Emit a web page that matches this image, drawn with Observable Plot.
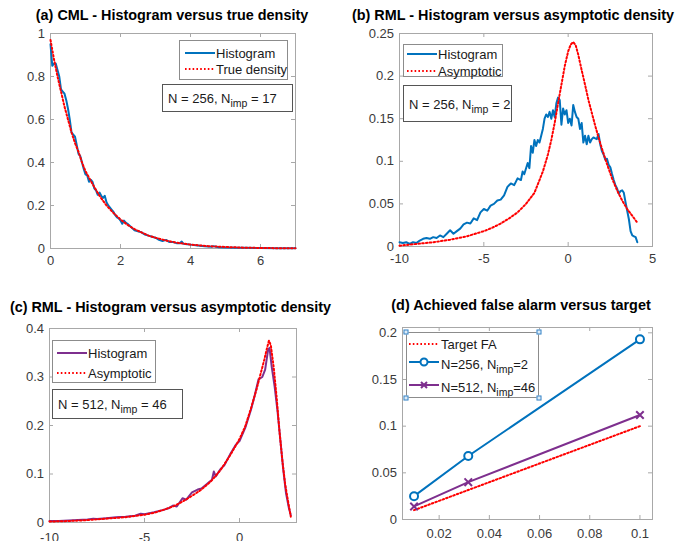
<!DOCTYPE html>
<html><head><meta charset="utf-8">
<script src="https://cdn.jsdelivr.net/npm/d3@7"></script>
<script src="https://cdn.jsdelivr.net/npm/@observablehq/plot@0.6"></script>
<style>
body{margin:0;background:#fff;font-family:"Liberation Sans",Arial,Helvetica,sans-serif;}
#root{position:relative;width:678px;height:541px;overflow:hidden;background:#fff}
#root svg.pl{position:absolute;left:0;top:0;overflow:visible}
.title{position:absolute;font-weight:bold;font-size:14.4px;line-height:1;white-space:nowrap;transform:translate(-50%,-50%);color:#000}
.leg{position:absolute;border:1px solid #8c8c8c;background:#fff;box-sizing:border-box}
.row{position:absolute;font-size:13px;line-height:1;white-space:nowrap;color:#1a1a1a;transform:translateY(-50%)}
.samp{position:absolute;overflow:visible}
.tbox{position:absolute;border:1px solid #555;background:#fff;box-sizing:border-box;font-size:13px;color:#1a1a1a;white-space:nowrap;padding-left:5px}
.tbox span{position:absolute;left:5px;top:50%;transform:translateY(-50%);line-height:1}
sub{font-size:10.5px;vertical-align:-4px;line-height:0}
.handle{position:absolute;width:5px;height:5px;border:1px solid #3b86c8;background:#dcebf7;box-sizing:border-box;transform:translate(-50%,-50%)}
</style></head>
<body><div id="root"></div>
<script>
// ---------- data ----------
// (a) CML: histogram and true density
const aHist = [[0,0.95],[0.05,0.85],[0.1,0.86],[0.15,0.86],[0.2,0.83],[0.25,0.80],[0.3,0.74],[0.35,0.73],[0.4,0.72],[0.45,0.69],[0.5,0.65],[0.55,0.60],[0.6,0.54],[0.65,0.53],[0.7,0.52],[0.75,0.48],[0.8,0.44],[0.85,0.43],[0.9,0.40],[0.95,0.37],[1.0,0.345],[1.05,0.34],[1.1,0.31],[1.15,0.32],[1.2,0.31],[1.25,0.28],[1.3,0.27],[1.35,0.25],[1.4,0.26],[1.45,0.245],[1.5,0.235],[1.55,0.245],[1.6,0.215],[1.65,0.20],[1.7,0.19],[1.75,0.18],[1.8,0.17],[1.85,0.155],[1.9,0.145],[1.95,0.14],[2.0,0.13],[2.05,0.115],[2.1,0.13],[2.15,0.12],[2.2,0.115],[2.3,0.10],[2.4,0.085],[2.5,0.08],[2.6,0.075],[2.7,0.065],[2.8,0.06],[2.9,0.055],[3.0,0.05],[3.1,0.04],[3.2,0.035],[3.3,0.04],[3.4,0.03],[3.5,0.03],[3.6,0.025],[3.7,0.025],[3.75,0.032],[3.8,0.022],[3.9,0.02],[4.0,0.018],[4.2,0.014],[4.4,0.01],[4.6,0.008],[4.65,0.011],[4.8,0.006],[5.0,0.005],[5.3,0.004],[5.6,0.003],[6.0,0.002],[6.5,0.001],[7.0,0.001]];
const aTrue = [[0,0.97],[0.1,0.88],[0.2,0.80],[0.3,0.73],[0.4,0.66],[0.5,0.60],[0.6,0.54],[0.7,0.49],[0.8,0.45],[0.9,0.40],[1.0,0.36],[1.2,0.30],[1.4,0.245],[1.6,0.20],[1.8,0.165],[2.0,0.135],[2.2,0.11],[2.4,0.09],[2.6,0.075],[2.8,0.06],[3.0,0.05],[3.3,0.037],[3.6,0.027],[4.0,0.018],[4.5,0.011],[5.0,0.007],[5.5,0.004],[6.0,0.0025],[6.5,0.0015],[7.0,0.001]];
// (b) RML N=256: histogram and asymptotic density
const bHist = [[-10,0.005],[-9.8,0.004],[-9.6,0.005],[-9.4,0.003],[-9.2,0.005],[-9.0,0.004],[-8.8,0.007],[-8.6,0.009],[-8.4,0.010],[-8.2,0.009],[-8.0,0.011],[-7.8,0.010],[-7.6,0.013],[-7.4,0.011],[-7.2,0.015],[-7.0,0.019],[-6.8,0.015],[-6.6,0.018],[-6.4,0.021],[-6.2,0.026],[-6.0,0.028],[-5.8,0.027],[-5.6,0.033],[-5.4,0.031],[-5.2,0.040],[-5.0,0.044],[-4.8,0.042],[-4.6,0.048],[-4.4,0.050],[-4.2,0.054],[-4.0,0.055],[-3.8,0.060],[-3.6,0.070],[-3.4,0.074],[-3.2,0.072],[-3.0,0.080],[-2.8,0.078],[-2.7,0.088],[-2.6,0.085],[-2.4,0.098],[-2.3,0.092],[-2.2,0.118],[-2.1,0.110],[-2.0,0.125],[-1.9,0.118],[-1.8,0.125],[-1.7,0.122],[-1.6,0.130],[-1.5,0.138],[-1.4,0.150],[-1.3,0.155],[-1.2,0.152],[-1.1,0.158],[-1.0,0.150],[-0.9,0.160],[-0.8,0.152],[-0.7,0.168],[-0.6,0.175],[-0.5,0.172],[-0.4,0.143],[-0.3,0.162],[-0.2,0.155],[-0.1,0.160],[0.0,0.145],[0.1,0.150],[0.2,0.142],[0.3,0.166],[0.4,0.158],[0.5,0.152],[0.6,0.150],[0.7,0.138],[0.8,0.145],[0.9,0.122],[1.0,0.130],[1.1,0.120],[1.2,0.130],[1.3,0.122],[1.4,0.126],[1.5,0.128],[1.6,0.127],[1.7,0.126],[1.8,0.132],[1.9,0.120],[2.0,0.112],[2.1,0.108],[2.2,0.102],[2.3,0.103],[2.4,0.096],[2.5,0.093],[2.6,0.085],[2.7,0.078],[2.8,0.072],[2.9,0.068],[3.0,0.062],[3.1,0.065],[3.2,0.066],[3.3,0.063],[3.4,0.052],[3.5,0.042],[3.6,0.032],[3.7,0.018],[3.8,0.013],[3.9,0.012],[4.0,0.011],[4.1,0.005]];
const bAsym = [[-10,0.001],[-9,0.003],[-8,0.005],[-7,0.008],[-6,0.012],[-5,0.018],[-4.5,0.022],[-4,0.027],[-3.5,0.033],[-3,0.040],[-2.5,0.050],[-2,0.063],[-1.5,0.088],[-1.2,0.108],[-1,0.125],[-0.8,0.145],[-0.6,0.168],[-0.4,0.19],[-0.2,0.212],[0,0.229],[0.15,0.237],[0.3,0.24],[0.45,0.236],[0.6,0.225],[0.8,0.207],[1.0,0.19],[1.2,0.172],[1.4,0.157],[1.6,0.142],[1.8,0.128],[2.0,0.115],[2.3,0.097],[2.6,0.08],[2.9,0.066],[3.2,0.054],[3.5,0.044],[3.8,0.036],[4.1,0.028]];
// (c) RML N=512: histogram and asymptotic density
const cHist = [[-10,0.003],[-9.5,0.003],[-9,0.004],[-8.5,0.005],[-8,0.006],[-7.7,0.008],[-7.5,0.007],[-7,0.009],[-6.5,0.011],[-6,0.012],[-5.5,0.014],[-5.2,0.018],[-5,0.017],[-4.5,0.021],[-4,0.026],[-3.7,0.03],[-3.5,0.035],[-3.3,0.033],[-3.0,0.05],[-2.8,0.047],[-2.5,0.062],[-2.2,0.068],[-2.0,0.070],[-1.7,0.08],[-1.45,0.088],[-1.35,0.105],[-1.25,0.095],[-1.0,0.11],[-0.8,0.118],[-0.5,0.14],[-0.2,0.16],[0,0.168],[0.3,0.195],[0.6,0.232],[0.8,0.262],[1.0,0.295],[1.2,0.30],[1.35,0.315],[1.5,0.355],[1.58,0.36],[1.7,0.32],[1.85,0.28],[2.0,0.23],[2.15,0.17],[2.3,0.11],[2.45,0.06],[2.6,0.03],[2.7,0.015]];
const cAsym = [[-10,0.002],[-9,0.003],[-8,0.005],[-7,0.008],[-6,0.011],[-5,0.016],[-4.5,0.020],[-4,0.026],[-3.5,0.033],[-3,0.043],[-2.5,0.055],[-2,0.068],[-1.5,0.085],[-1,0.108],[-0.5,0.138],[0,0.172],[0.3,0.198],[0.6,0.235],[0.9,0.275],[1.1,0.305],[1.3,0.335],[1.45,0.36],[1.55,0.375],[1.65,0.365],[1.8,0.32],[1.95,0.26],[2.1,0.19],[2.25,0.13],[2.4,0.08],[2.55,0.045],[2.7,0.012]];
// (d) achieved false alarm versus target
const dTarget = [0.01, 0.0316, 0.1];
const dTargetFA = [0.01, 0.0316, 0.1];
const dN256 = [0.025, 0.068, 0.193];
const dN512 = [0.014, 0.040, 0.112];
// tick labels
const aXTicks = [0,2,4,6], aYTicks = [0,0.2,0.4,0.6,0.8,1];
const bXTicks = [-10,-5,0,5], bYTicks = [0,0.05,0.1,0.15,0.2,0.25];
const cXTicks = [-10,-5,0], cYTicks = [0,0.1,0.2,0.3,0.4];
const dXTicks = [0.02,0.04,0.06,0.08,0.1], dYTicks = [0,0.05,0.1,0.15,0.2];

// ---------- drawing ----------
const BLUE="#0072BD", PURPLE="#7E2F8E", RED="#FF0000", AX="#a8a8a8";
const DOT="1.6,2.2";
const W=678, H=541;
const root=document.getElementById("root");
const px = d=>d[0], py = d=>d[1];

function panel(o){
  const fh=o.B-o.T, fw=o.R-o.L, tl=4;
  const fmt = d=>String(d);
  const svg = Plot.plot({
    width:W, height:H,
    marginLeft:o.L, marginRight:W-o.R, marginTop:o.T, marginBottom:H-o.B,
    x:{domain:o.xd, label:null}, y:{domain:o.yd, label:null},
    style:{fontFamily:'"Liberation Sans",Arial,sans-serif', fontSize:"13px", color:"#3a3a3a", background:"transparent"},
    marks:[
      Plot.frame({stroke:AX}),
      Plot.ruleX(o.xt,{stroke:AX, insetTop:fh-tl}),
      Plot.ruleX(o.xt,{stroke:AX, insetBottom:fh-tl}),
      Plot.ruleY(o.yt,{stroke:AX, insetRight:fw-tl}),
      Plot.ruleY(o.yt,{stroke:AX, insetLeft:fw-tl}),
      Plot.axisX({ticks:o.xt, tickSize:0, tickPadding:o.xpad, tickFormat:fmt, fontSize:13}),
      Plot.axisY({ticks:o.yt, tickSize:0, tickPadding:5.5, tickFormat:fmt, fontSize:13}),
      ...o.marks
    ]
  });
  svg.classList.add("pl");
  root.appendChild(svg);
}

panel({L:50,R:295,T:33,B:248,xd:[0,7],yd:[0,1],xt:aXTicks,yt:aYTicks,xpad:7,marks:[
  Plot.line(aHist,{x:px,y:py,stroke:BLUE,strokeWidth:2}),
  Plot.line(aTrue,{x:px,y:py,stroke:RED,strokeWidth:2,strokeDasharray:DOT})
]});
panel({L:399,R:652,T:33,B:246,xd:[-10,5],yd:[0,0.25],xt:bXTicks,yt:bYTicks,xpad:7,marks:[
  Plot.line(bHist,{x:px,y:py,stroke:BLUE,strokeWidth:2}),
  Plot.line(bAsym,{x:px,y:py,stroke:RED,strokeWidth:2,strokeDasharray:DOT})
]});
panel({L:49,R:296,T:328,B:522,xd:[-10,3],yd:[0,0.4],xt:cXTicks,yt:cYTicks,xpad:10,marks:[
  Plot.line(cHist,{x:px,y:py,stroke:PURPLE,strokeWidth:2}),
  Plot.line(cAsym,{x:px,y:py,stroke:RED,strokeWidth:2,strokeDasharray:DOT})
]});
const dIdx = dTarget.map((_,i)=>i);
panel({L:402,R:652,T:327,B:519,xd:[0.0054,0.105],yd:[0,0.2057],xt:dXTicks,yt:dYTicks,xpad:9,marks:[
  Plot.line(dIdx,{x:i=>dTarget[i],y:i=>dTargetFA[i],stroke:RED,strokeWidth:2,strokeDasharray:DOT}),
  Plot.line(dIdx,{x:i=>dTarget[i],y:i=>dN256[i],stroke:BLUE,strokeWidth:2}),
  Plot.dot(dIdx,{x:i=>dTarget[i],y:i=>dN256[i],stroke:BLUE,strokeWidth:2,r:4,fill:"white"}),
  Plot.line(dIdx,{x:i=>dTarget[i],y:i=>dN512[i],stroke:PURPLE,strokeWidth:2}),
  Plot.dot(dIdx,{x:i=>dTarget[i],y:i=>dN512[i],stroke:PURPLE,strokeWidth:2,r:3.5,symbol:"times"})
]});

// ---------- titles ----------
function title(text,cx,cy){const d=document.createElement("div");d.className="title";d.textContent=text;d.style.left=cx+"px";d.style.top=cy+"px";root.appendChild(d);}
title("(a) CML - Histogram versus true density",172,15);
title("(b) RML - Histogram versus asymptotic density",513,15);
title("(c) RML - Histogram versus asymptotic density",170.5,307);
title("(d) Achieved false alarm versus target",521,305);

// ---------- legends ----------
function sample(color,dash,marker){
  const w=30;
  let s=`<svg class="samp" width="${w}" height="10" style="left:0;top:-5px"><line x1="0" y1="5" x2="${w}" y2="5" stroke="${color}" stroke-width="2" ${dash?`stroke-dasharray="${dash}"`:""}/>`;
  if(marker==="o") s+=`<circle cx="${w/2}" cy="5" r="3.5" fill="white" stroke="${color}" stroke-width="2"/>`;
  if(marker==="x") s+=`<path d="M${w/2-3},2L${w/2+3},8M${w/2-3},8L${w/2+3},2" stroke="${color}" stroke-width="2"/>`;
  return s+"</svg>";
}
function legend(box,rows,sx,tx){
  const d=document.createElement("div");d.className="leg";
  Object.assign(d.style,{left:box[0]+"px",top:box[1]+"px",width:(box[2]-box[0])+"px",height:(box[3]-box[1])+"px"});
  rows.forEach(r=>{
    const s=document.createElement("div");s.style.position="absolute";s.style.left=(sx-box[0])+"px";s.style.top=(r.y-box[1])+"px";
    s.innerHTML=sample(r.color,r.dash,r.marker);d.appendChild(s);
    const t=document.createElement("div");t.className="row";t.style.left=(tx-box[0])+"px";t.style.top=(r.ty||r.y)-box[1]+"px";t.innerHTML=r.html;d.appendChild(t);
  });
  root.appendChild(d);
}
function tbox(box,html){
  const d=document.createElement("div");d.className="tbox";
  Object.assign(d.style,{left:box[0]+"px",top:box[1]+"px",width:(box[2]-box[0])+"px",height:(box[3]-box[1])+"px"});
  d.innerHTML="<span>"+html+"</span>";root.appendChild(d);
}
legend([179,40,288,80],[{y:51.5,color:BLUE,html:"Histogram"},{y:68,color:RED,dash:DOT,html:"True density"}],184,215);
tbox([162,84,293,112],"N = 256, N<sub>imp</sub>&nbsp;= 17");
legend([403,44,503,77],[{y:52.5,color:BLUE,html:"Histogram"},{y:69.5,color:RED,dash:DOT,html:"Asymptotic"}],406,437);
tbox([403,85,512,122],"N = 256, N<sub>imp</sub>&nbsp;= 2");
legend([52,340,156,383],[{y:352,color:PURPLE,html:"Histogram"},{y:372,color:RED,dash:DOT,html:"Asymptotic"}],56,87);
tbox([52,389,183,419],"N = 512, N<sub>imp</sub>&nbsp;= 46");
legend([406,332,539,398],[
  {y:343,color:RED,dash:DOT,html:"Target FA"},
  {y:361,ty:363,color:BLUE,marker:"o",html:"N=256, N<sub>imp</sub>=2"},
  {y:384,ty:386,color:PURPLE,marker:"x",html:"N=512, N<sub>imp</sub>=46"}],408,440);
[[406,332],[539,332],[406,398],[539,398]].forEach(([x,y])=>{const h=document.createElement("div");h.className="handle";h.style.left=x+"px";h.style.top=y+"px";root.appendChild(h);});
</script></body></html>
